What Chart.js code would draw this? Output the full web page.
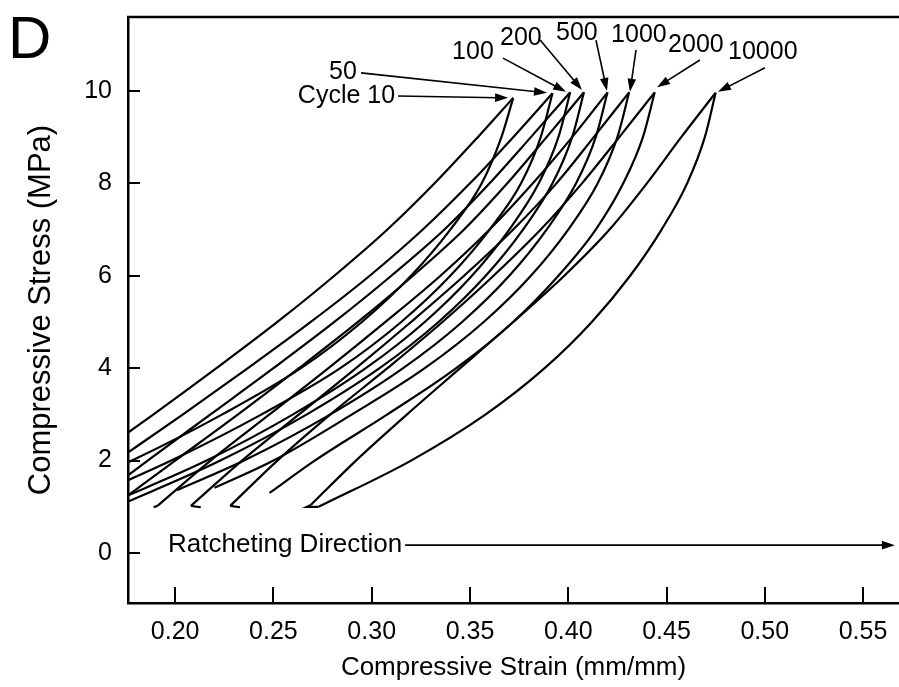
<!DOCTYPE html>
<html>
<head>
<meta charset="utf-8">
<script src="https://cdn.jsdelivr.net/npm/chart.js@4.4.1/dist/chart.umd.min.js"></script>
<style>
  html, body { margin: 0; padding: 0; background: #fff; }
  #wrap { width: 899px; height: 687px; position: relative; }
</style>
</head>
<body>
<div id="wrap"><canvas id="chart"></canvas></div>
<script>
// hysteresis loops: [strain (mm/mm), stress (MPa)]
// L = left (upper) branch, R = right (lower) branch, both listed bottom -> peak
const c10L = [[0.156,2.0],[0.189,3.0],[0.221,4.0],[0.252,5.0],[0.281,6.0],[0.308,7.0],[0.332,8.0],[0.354,9.0],[0.372,9.85]];
const c10R = [[0.136,1.2],[0.178,2.0],[0.224,3.0],[0.264,4.0],[0.295,5.0],[0.320,6.0],[0.340,7.0],[0.356,8.0],[0.366,9.0],[0.372,9.85]];

const c50L = [[0.153,1.5],[0.170,2.0],[0.204,3.0],[0.237,4.0],[0.269,5.0],[0.299,6.0],[0.326,7.0],[0.350,8.0],[0.372,9.0],[0.392,9.95]];
const c50R = [[0.156,1.2],[0.198,2.0],[0.244,3.0],[0.284,4.0],[0.315,5.0],[0.340,6.0],[0.360,7.0],[0.376,8.0],[0.386,9.0],[0.392,9.95]];

const c100L = [[0.156,1.04],[0.186,2.0],[0.218,3.0],[0.250,4.0],[0.281,5.0],[0.310,6.0],[0.337,7.0],[0.360,8.0],[0.381,9.0],[0.401,9.97]];
const c100R = [[0.168,1.1],[0.216,2.0],[0.260,3.0],[0.297,4.0],[0.327,5.0],[0.351,6.0],[0.370,7.0],[0.385,8.0],[0.395,9.0],[0.401,9.97]];

const c200L = [[0.168,1.0],[0.200,2.0],[0.232,3.0],[0.263,4.0],[0.293,5.0],[0.321,6.0],[0.347,7.0],[0.369,8.0],[0.389,9.0],[0.408,9.97]];
const c200R = [[0.170,1.0],[0.223,2.0],[0.267,3.0],[0.304,4.0],[0.334,5.0],[0.358,6.0],[0.377,7.0],[0.392,8.0],[0.402,9.0],[0.408,9.97]];

const c500L = [[0.191,1.02],[0.218,2.0],[0.248,3.0],[0.278,4.0],[0.307,5.0],[0.335,6.0],[0.360,7.0],[0.382,8.0],[0.402,9.0],[0.420,9.97]];
const c500R = [[0.201,1.36],[0.235,2.0],[0.279,3.0],[0.316,4.0],[0.346,5.0],[0.370,6.0],[0.389,7.0],[0.404,8.0],[0.414,9.0],[0.420,9.97]];
const c500Foot = [[0.191,1.02],[0.189,0.99]];

const c1000L = [[0.208,1.02],[0.234,2.0],[0.263,3.0],[0.292,4.0],[0.320,5.0],[0.347,6.0],[0.372,7.0],[0.394,8.0],[0.413,9.0],[0.431,9.97]];
const c1000R = [[0.220,1.41],[0.250,2.0],[0.290,3.0],[0.327,4.0],[0.357,5.0],[0.381,6.0],[0.400,7.0],[0.415,8.0],[0.425,9.0],[0.431,9.97]];
const c1000Foot = [[0.208,1.02],[0.213,0.99]];

const c2000L = [[0.228,1.02],[0.252,2.0],[0.279,3.0],[0.308,4.0],[0.336,5.0],[0.362,6.0],[0.386,7.0],[0.407,8.0],[0.426,9.0],[0.444,9.97]];
const c2000R = [[0.248,1.30],[0.271,2.0],[0.308,3.0],[0.343,4.0],[0.372,5.0],[0.395,6.0],[0.414,7.0],[0.428,8.0],[0.438,9.0],[0.444,9.97]];
const c2000Foot = [[0.228,1.02],[0.233,0.99]];

const c10000L = [[0.269,1.04],[0.292,2.0],[0.318,3.0],[0.345,4.0],[0.372,5.0],[0.398,6.0],[0.421,7.0],[0.440,8.0],[0.4575,9.0],[0.475,9.96]];
const c10000R = [[0.273,1.0],[0.320,2.0],[0.358,3.0],[0.388,4.0],[0.412,5.0],[0.4315,6.0],[0.4475,7.0],[0.4605,8.0],[0.4695,9.0],[0.475,9.96]];
const c10000Foot = [[0.269,1.04],[0.267,1.0],[0.273,1.0]];

const cycleLabels = ['Cycle 10', '50', '100', '200', '500', '1000', '2000', '10000'];
const xTickValues = [0.20, 0.25, 0.30, 0.35, 0.40, 0.45, 0.50, 0.55];
const yTickValues = [0, 2, 4, 6, 8, 10];

const loops = [
  [c10L, c10R], [c50L, c50R], [c100L, c100R], [c200L, c200R],
  [c500L, c500R, c500Foot], [c1000L, c1000R, c1000Foot], [c2000L, c2000R, c2000Foot],
  [c10000L, c10000R, c10000Foot]
];

// label placement in data units: text anchor, arrow start, arrow tip
const labelPos = [
  {tx: 0.3119, ty: 9.89, align: 'right', sx: 0.3134, sy: 9.89, ex: 0.3694, ey: 9.85},
  {tx: 0.2783, ty: 10.41, align: 'left', sx: 0.2946, sy: 10.39, ex: 0.3892, ey: 9.96},
  {tx: 0.3409, ty: 10.84, align: 'left', sx: 0.3668, sy: 10.71, ex: 0.3989, ey: 9.98},
  {tx: 0.3653, ty: 11.15, align: 'left', sx: 0.3857, sy: 11.10, ex: 0.4070, ey: 10.02},
  {tx: 0.3938, ty: 11.25, align: 'left', sx: 0.4141, sy: 11.10, ex: 0.4197, ey: 10.00},
  {tx: 0.4218, ty: 11.21, align: 'left', sx: 0.4345, sy: 10.89, ex: 0.4314, ey: 9.98},
  {tx: 0.4508, ty: 11.00, align: 'left', sx: 0.4670, sy: 10.67, ex: 0.4452, ey: 10.08},
  {tx: 0.4813, ty: 10.84, align: 'left', sx: 0.5001, sy: 10.50, ex: 0.4762, ey: 9.98}
];
const ratchet = {text: 'Ratcheting Direction', tx: 0.1964, ty: 0.17, sx: 0.317, ex: 0.5662};

const FONT = '"Liberation Sans", Arial, sans-serif';

const datasets = [];
loops.forEach((group, i) => {
  group.forEach(branch => {
    datasets.push({
      label: cycleLabels[i],
      data: branch.map(p => ({x: p[0], y: p[1]})),
      showLine: true,
      borderColor: '#000',
      borderWidth: 2.2,
      pointRadius: 0,
      cubicInterpolationMode: branch.length > 3 ? 'monotone' : 'default',
      tension: 0,
      fill: false
    });
  });
});

function arrow(ctx, x1, y1, x2, y2, head) {
  const a = Math.atan2(y2 - y1, x2 - x1);
  const c = Math.cos(a), s = Math.sin(a);
  ctx.beginPath();
  ctx.moveTo(x1, y1);
  ctx.lineTo(x2 - c * head * 0.8, y2 - s * head * 0.8);
  ctx.stroke();
  ctx.beginPath();
  ctx.moveTo(x2, y2);
  ctx.lineTo(x2 - head * c + head * 0.33 * s, y2 - head * s - head * 0.33 * c);
  ctx.lineTo(x2 - head * c - head * 0.33 * s, y2 - head * s + head * 0.33 * c);
  ctx.closePath();
  ctx.fill();
}

const overlay = {
  id: 'overlay',
  afterDraw(chart) {
    const {ctx, chartArea: a} = chart;
    const x = chart.scales.x, y = chart.scales.y;
    ctx.save();
    ctx.strokeStyle = '#000';
    ctx.fillStyle = '#000';

    // top frame line
    ctx.lineWidth = 2.5;
    ctx.beginPath();
    ctx.moveTo(a.left - 1, a.top);
    ctx.lineTo(a.right, a.top);
    ctx.stroke();

    // inward tick marks
    ctx.lineWidth = 2;
    xTickValues.forEach(v => {
      const px = Math.round(x.getPixelForValue(v));
      ctx.beginPath();
      ctx.moveTo(px, a.bottom);
      ctx.lineTo(px, a.bottom - 16);
      ctx.stroke();
    });
    yTickValues.forEach(v => {
      const py = Math.round(y.getPixelForValue(v));
      ctx.beginPath();
      ctx.moveTo(a.left, py);
      ctx.lineTo(a.left + 12, py);
      ctx.stroke();
    });

    // cycle labels with arrows
    ctx.font = '25px ' + FONT;
    ctx.textBaseline = 'middle';
    ctx.lineWidth = 1.6;
    labelPos.forEach((p, i) => {
      ctx.textAlign = p.align;
      ctx.fillText(cycleLabels[i], x.getPixelForValue(p.tx), y.getPixelForValue(p.ty));
      arrow(ctx, x.getPixelForValue(p.sx), y.getPixelForValue(p.sy),
        x.getPixelForValue(p.ex), y.getPixelForValue(p.ey), 13);
    });

    // ratcheting direction
    ctx.font = '26px ' + FONT;
    ctx.textAlign = 'left';
    const ry = y.getPixelForValue(ratchet.ty);
    ctx.fillText(ratchet.text, x.getPixelForValue(ratchet.tx), ry);
    arrow(ctx, x.getPixelForValue(ratchet.sx), ry, x.getPixelForValue(ratchet.ex), ry, 13);

    // panel letter
    ctx.font = '60px ' + FONT;
    ctx.textBaseline = 'alphabetic';
    ctx.textAlign = 'left';
    ctx.fillText('D', 8, 58);
    ctx.restore();
  }
};

new Chart(document.getElementById('chart'), {
  type: 'scatter',
  data: {datasets: datasets},
  options: {
    responsive: true,
    maintainAspectRatio: false,
    animation: false,
    events: [],
    layout: {padding: {left: 0, top: 17, right: 0, bottom: 0}, autoPadding: false},
    plugins: {legend: {display: false}, tooltip: {enabled: false}},
    scales: {
      x: {
        type: 'linear',
        min: 0.176,
        max: 0.5683,
        afterBuildTicks: s => { s.ticks = xTickValues.map(v => ({value: v})); },
        afterFit: s => { s.height = 84; s.paddingLeft = 0; s.paddingRight = 0; },
        grid: {display: false},
        border: {display: true, color: '#000', width: 2.5},
        ticks: {color: '#000', padding: 6, font: {size: 25, family: FONT}, callback: v => v.toFixed(2)},
        title: {display: true, text: 'Compressive Strain (mm/mm)', color: '#000',
          font: {size: 26, family: FONT}, padding: {top: 0, bottom: 4}}
      },
      y: {
        type: 'linear',
        min: -1.082,
        max: 11.6,
        afterBuildTicks: s => { s.ticks = yTickValues.map(v => ({value: v})); },
        afterFit: s => { s.width = 128; s.paddingTop = 0; s.paddingBottom = 0; },
        grid: {display: false},
        border: {display: true, color: '#000', width: 2.5},
        ticks: {color: '#000', padding: 8, font: {size: 25, family: FONT}},
        title: {display: true, text: 'Compressive Stress (MPa)', color: '#000',
          font: {size: 31, family: FONT}, padding: {top: 23, bottom: 0}}
      }
    }
  },
  plugins: [overlay]
});
</script>
</body>
</html>
